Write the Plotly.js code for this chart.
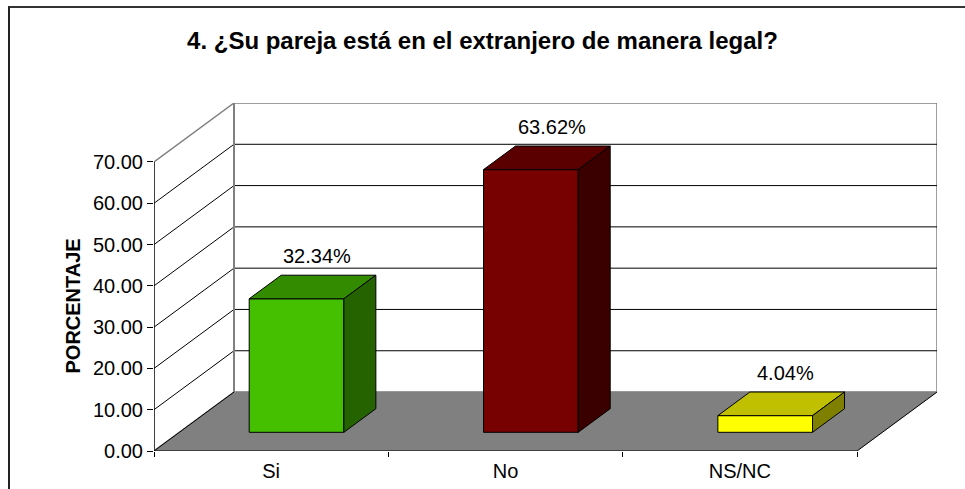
<!DOCTYPE html>
<html>
<head>
<meta charset="utf-8">
<script src="https://cdn.plot.ly/plotly-3.0.1.min.js"></script>
<style>
  html, body { margin: 0; padding: 0; background: #fff; overflow: hidden; }
  #chart { width: 965px; height: 489px; }
  #frame { position: absolute; left: 8px; top: 6px; width: 1200px; height: 1200px;
           border-left: 2px solid #222; border-top: 2px solid #333; pointer-events: none; }
</style>
</head>
<body>
<div id="chart"></div>
<div id="frame"></div>
<script>
// ---- data ----
const categories = ['Si', 'No', 'NS/NC'];
const values = [32.34, 63.62, 4.04];
const valueLabels = ['32.34%', '63.62%', '4.04%'];
const yTickVals = [0, 10, 20, 30, 40, 50, 60, 70];
const yTickText = ['0.00', '10.00', '20.00', '30.00', '40.00', '50.00', '60.00', '70.00'];
const frontColors = ['#44C000', '#770000', '#FFFF00'];
const topColors = ['#338C00', '#5A0000', '#C0C000'];
const sideColors = ['#246300', '#3A0000', '#808000'];

// ---- 3D projection style constants ----
const DX = 0.3414;   // depth offset in category units
const DY = 14.28;    // depth offset in value units
const F1 = 0.317;    // bar front depth fraction
const F2 = 0.717;    // bar back depth fraction
const HW = 0.202;    // bar half width
const YMAX = yTickVals[yTickVals.length - 1];
const FONT = 'Liberation Sans, Arial, sans-serif';
const nCat = categories.length;
const xL = -0.5, xR = nCat - 0.5;

const traces = [];
function poly(xs, ys, fill, lineColor, lineWidth) {
  traces.push({
    type: 'scatter', mode: 'lines', x: xs, y: ys,
    fill: fill ? 'toself' : 'none', fillcolor: fill || undefined,
    line: { color: lineColor, width: lineWidth }, hoverinfo: 'skip'
  });
}

// back wall
poly([xL + DX, xR + DX, xR + DX, xL + DX, xL + DX], [DY, DY, YMAX + DY, YMAX + DY, DY], '#FFFFFF', '#808080', 1.5);
// left wall
poly([xL, xL + DX, xL + DX, xL, xL], [0, DY, YMAX + DY, YMAX, 0], '#FFFFFF', '#808080', 1.5);
// gridlines
const gx = [], gy = [];
yTickVals.forEach(v => {
  if (v === 0 || v === YMAX) return;
  gx.push(xL, xL + DX, xR + DX, null);
  gy.push(v, v + DY, v + DY, null);
});
poly(gx, gy, null, '#000000', 1);
// floor
poly([xL, xR, xR + DX, xL + DX, xL], [0, 0, DY, DY, 0], '#808080', '#808080', 0.5);
poly([xL, xL + DX, null, xR, xR + DX], [0, DY, null, 0, DY], null, '#000000', 1);
// front axis lines
poly([xL, xL, null, xL, xR], [YMAX, 0, null, 0, 0], null, '#000000', 1.2);
// back wall edge re-stroked (gray)
poly([xL + DX, xL + DX], [DY, YMAX + DY], null, '#808080', 2);

// bars
const ddx = (F2 - F1) * DX, ddy = (F2 - F1) * DY;
const annotations = [];
values.forEach((v, i) => {
  const x0 = i - HW + F1 * DX, x1 = i + HW + F1 * DX;
  const y0 = F1 * DY, y1 = y0 + v;
  poly([x0, x1, x1, x0, x0], [y0, y0, y1, y1, y0], frontColors[i], '#000000', 1);
  poly([x0, x1, x1 + ddx, x0 + ddx, x0], [y1, y1, y1 + ddy, y1 + ddy, y1], topColors[i], '#000000', 1);
  poly([x1, x1 + ddx, x1 + ddx, x1, x1], [y0, y0 + ddy, y1 + ddy, y1, y0], sideColors[i], '#000000', 1);
  annotations.push({
    x: (x0 + x1) / 2 + ddx * 0.65, y: y1 + ddy, xref: 'x', yref: 'y',
    text: valueLabels[i], showarrow: false, yanchor: 'middle', yshift: 19,
    font: { family: FONT, size: 20, color: '#000' }
  });
});

// y-axis title, centred on the front value axis (0..70)
annotations.push({
  x: -0.1034, xref: 'paper', y: YMAX / 2, yref: 'y',
  text: '<b>PORCENTAJE</b>', textangle: -90, showarrow: false,
  xanchor: 'center', yanchor: 'middle',
  font: { family: FONT, size: 20, color: '#000' }
});

const layout = {
  width: 965, height: 489,
  margin: { l: 154, r: 28, t: 103, b: 38 },
  paper_bgcolor: '#FFFFFF', plot_bgcolor: '#FFFFFF',
  showlegend: false,
  title: {
    text: '<b>4. ¿Su pareja está en el extranjero de manera legal?</b>',
    font: { family: FONT, size: 24, color: '#000' },
    x: 0.5, xref: 'container', xanchor: 'center',
    y: 1 - 41 / 489, yref: 'container', yanchor: 'middle'
  },
  xaxis: {
    range: [xL, xR + DX], showgrid: false, zeroline: false, showline: false,
    tickmode: 'array', tickvals: categories.map((c, i) => i), ticktext: categories,
    ticks: '', ticklabelstandoff: 6, tickfont: { family: FONT, size: 20, color: '#000' },
    minor: { tickmode: 'array', tickvals: categories.map((c, i) => i - 0.5).concat([xR]),
             ticks: 'outside', ticklen: 5, tickcolor: '#000', tickwidth: 1, showgrid: false },
    fixedrange: true
  },
  yaxis: {
    range: [0, YMAX + DY], showgrid: false, zeroline: false, showline: false,
    tickmode: 'array', tickvals: yTickVals, ticktext: yTickText,
    ticks: 'outside', ticklen: 6, tickcolor: '#000', tickwidth: 1,
    tickfont: { family: FONT, size: 20, color: '#000' },
    fixedrange: true
  },
  annotations: annotations
};

Plotly.newPlot('chart', traces, layout, { displayModeBar: false, staticPlot: true });
</script>
</body>
</html>
